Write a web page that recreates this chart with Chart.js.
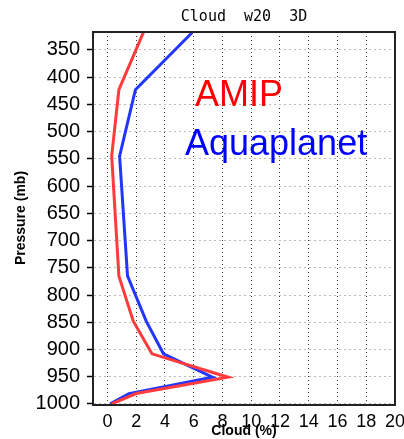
<!DOCTYPE html>
<html>
<head>
<meta charset="utf-8">
<script src="https://cdn.jsdelivr.net/npm/chart.js@4.4.1/dist/chart.umd.min.js"></script>
<style>
html,body{margin:0;padding:0;background:#fff;}
#wrap{width:404px;height:439px;position:relative;}
</style>
</head>
<body>
<div id="wrap"><canvas id="c" width="404" height="439"></canvas></div>
<script>
// Data
const title = "Cloud  w20  3D";
const seriesNames = ["AMIP", "Aquaplanet"];
const pressureLevels = [318, 423, 545, 765, 848, 908, 951, 981, 1000];
const amipCloud      = [2.5, 0.8, 0.3, 0.8, 1.8, 3.1, 8.4, 2.0, 0.3];
const aquaCloud      = [5.9, 1.95, 0.85, 1.4, 2.7, 3.9, 7.3, 1.5, 0.2];
const pressureTicks = [350,400,450,500,550,600,650,700,750,800,850,900,950,1000];
const cloudTicks = [0,2,4,6,8,10,12,14,16,18,20];
const yTitle = "Pressure (mb)";
const xTitle = "Cloud (%)";

const toPts = (vals) => vals.map((v, i) => ({x: v, y: pressureLevels[i]}));

const overlay = {
  id: 'overlay',
  afterDraw(chart) {
    const ctx = chart.ctx, a = chart.chartArea;
    ctx.save();
    // frame
    ctx.strokeStyle = '#222';
    ctx.lineWidth = 2;
    ctx.strokeRect(a.left, a.top, a.right - a.left, a.bottom - a.top);
    // title
    ctx.fillStyle = '#000';
    ctx.font = '15px "DejaVu Sans Mono"';
    ctx.textAlign = 'center';
    ctx.textBaseline = 'middle';
    ctx.fillText(title, (a.left + a.right) / 2, 17);
    // series labels
    ctx.textAlign = 'left';
    ctx.textBaseline = 'alphabetic';
    ctx.font = '36px "Liberation Sans"';
    ctx.fillStyle = '#ff0000';
    ctx.fillText(seriesNames[0], a.left + 102, a.top + 74);
    ctx.fillStyle = '#0000ff';
    ctx.fillText(seriesNames[1], a.left + 92, a.top + 123);
    // axis titles
    ctx.fillStyle = '#000';
    ctx.font = 'bold 14px "Liberation Sans"';
    ctx.textAlign = 'center';
    ctx.textBaseline = 'middle';
    ctx.fillText(xTitle, (a.left + a.right) / 2, 431);
    ctx.translate(21, 218);
    ctx.rotate(-Math.PI / 2);
    ctx.fillText(yTitle, 0, 0);
    ctx.restore();
  }
};

new Chart(document.getElementById('c'), {
  type: 'line',
  data: {
    datasets: [
      { label: seriesNames[0], data: toPts(amipCloud), borderColor: '#ff3b3b', borderWidth: 3, pointRadius: 0, tension: 0, fill: false },
      { label: seriesNames[1], data: toPts(aquaCloud), borderColor: '#2236ff', borderWidth: 3, pointRadius: 0, tension: 0, fill: false }
    ]
  },
  options: {
    responsive: false,
    animation: false,
    devicePixelRatio: 1,
    layout: { padding: { top: 32, right: 9, left: 0, bottom: 0 } },
    plugins: { legend: { display: false }, tooltip: { enabled: false }, title: { display: false } },
    scales: {
      x: {
        type: 'linear',
        min: -1, max: 20,
        afterBuildTicks(s) { s.ticks = cloudTicks.map(v => ({value: v})); },
        afterFit(s) { s.height = 34; s.paddingLeft = 0; s.paddingRight = 0; },
        grid: { color: '#333', drawTicks: false, lineWidth: 1 },
        border: { display: true, color: '#000', width: 2, dash: [1, 3] },
        ticks: { color: '#000', padding: 6, maxRotation: 0, callback: v => String(v), font: { family: '"Liberation Sans Narrow", "Liberation Sans"', size: 18 } }
      },
      y: {
        type: 'linear',
        reverse: true,
        min: 317, max: 1002,
        afterBuildTicks(s) { s.ticks = pressureTicks.map(v => ({value: v})); },
        afterFit(s) { s.width = 93; s.paddingTop = 0; s.paddingBottom = 0; },
        grid: { color: '#bbb', drawTicks: true, tickLength: 6, tickColor: '#000', tickBorderDash: [], tickWidth: 1.5, lineWidth: 1 },
        border: { display: true, color: '#000', width: 2, dash: [2, 3] },
        ticks: { color: '#000', padding: 7, callback: v => String(v), font: { family: '"Liberation Sans"', size: 20 } }
      }
    }
  },
  plugins: [overlay]
});
</script>
</body>
</html>
